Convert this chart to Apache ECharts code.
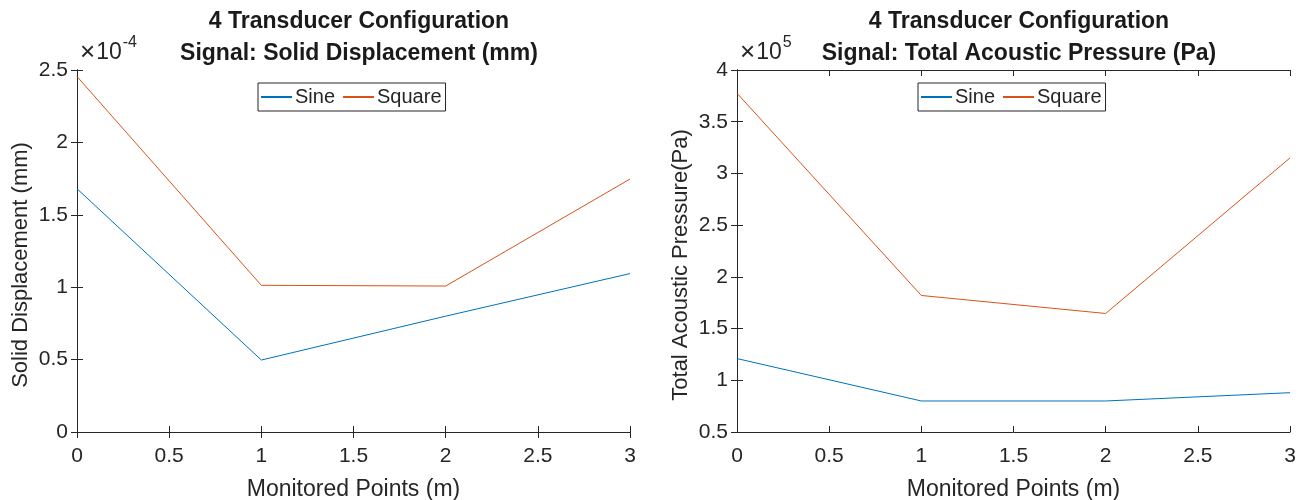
<!DOCTYPE html>
<html>
<head>
<meta charset="utf-8">
<script src="https://cdn.jsdelivr.net/npm/echarts@6/dist/echarts.min.js"></script>
<style>
	html, body { margin: 0; padding: 0; background: #fff; }
	#chart { width: 1299px; height: 500px; }
</style>
</head>
<body>
<div id="chart"></div>
<script>
// monitored points (m)
var points = [0, 1, 2, 3];
// solid displacement, in units of 1e-4 mm
var dispSine = [1.68, 0.497, 0.80, 1.094];
var dispSquare = [2.455, 1.013, 1.008, 1.747];
// total acoustic pressure, in units of 1e5 Pa
var presSine = [1.21, 0.80, 0.80, 0.88];
var presSquare = [3.775, 1.82, 1.646, 3.15];
var legendNames = ['Sine', 'Square'];

var FONT = 'Liberation Sans, Arial, sans-serif';
var INK = '#262626';
var SINE = '#0072BD';
var SQUARE = '#D95319';

function pairs(xs, ys) {
	return xs.map(function(x, i) { return [x, ys[i]]; });
}

// 一组坐标轴：底部/左侧带刻度标签，顶部/右侧只画刻度
function xAxes(gi) {
	return [{
		type: 'value', gridIndex: gi, min: 0, max: 3, interval: 0.5,
		name: 'Monitored Points (m)', nameLocation: 'middle', nameGap: 46,
		nameTextStyle: { fontFamily: FONT, fontSize: 23, color: INK },
		axisLine: { lineStyle: { color: INK, width: 1 } },
		axisTick: { inside: true, length: 6, lineStyle: { color: INK } },
		axisLabel: { fontFamily: FONT, fontSize: 21, color: INK, margin: 14 },
		splitLine: { show: false }
	}, {
		type: 'value', gridIndex: gi, position: 'top', min: 0, max: 3, interval: 0.5,
		axisLine: { show: true, lineStyle: { color: INK, width: 1 } },
		axisTick: { inside: true, length: 6, lineStyle: { color: INK } },
		axisLabel: { show: false },
		splitLine: { show: false }
	}];
}

function yAxes(gi, min, max, name) {
	return [{
		type: 'value', gridIndex: gi, min: min, max: max, interval: 0.5,
		name: name, nameLocation: 'middle', nameGap: 45,
		// 标签比绘图区中心略低
		nameTextStyle: { fontFamily: FONT, fontSize: 22, color: INK, padding: [0, 28, 0, 0] },
		axisLine: { show: true, lineStyle: { color: INK, width: 1 } },
		axisTick: { show: true, inside: true, length: 6, lineStyle: { color: INK } },
		axisLabel: { fontFamily: FONT, fontSize: 21, color: INK, margin: 9 },
		splitLine: { show: false }
	}, {
		type: 'value', gridIndex: gi, position: 'right', min: min, max: max, interval: 0.5,
		axisLine: { show: true, lineStyle: { color: INK, width: 1 } },
		axisTick: { show: true, inside: true, length: 6, lineStyle: { color: INK } },
		axisLabel: { show: false },
		splitLine: { show: false }
	}];
}

function line(name, color, xi, yi, data) {
	return {
		type: 'line', name: name, xAxisIndex: xi, yAxisIndex: yi,
		data: data, showSymbol: false, symbol: 'none',
		lineStyle: { color: color, width: 1 }, itemStyle: { color: color },
		animation: false
	};
}

function legendAt(left) {
	return {
		data: legendNames, left: left, top: 83, orient: 'horizontal',
		itemWidth: 31, itemHeight: 2, itemGap: 8,
		padding: [4, 4, 4, 3],
		borderColor: INK, borderWidth: 1, backgroundColor: '#fff',
		icon: 'rect',
		textStyle: { fontFamily: FONT, fontSize: 20, color: INK, padding: [0, 0, 0, -2] }
	};
}

// ×10^n 指数标注
function exponent(left, sup) {
	return {
		type: 'text', left: left, top: 35,
		style: {
			text: '{x|×}{b|10}{s|' + sup + '}',
			rich: {
				x: { fontFamily: FONT, fontSize: 26, fill: INK, padding: [12, 1, 0, 0] },
				b: { fontFamily: FONT, fontSize: 23, fill: INK, padding: [12, 1, 0, 0] },
				s: { fontFamily: FONT, fontSize: 16, fill: INK, padding: [0, 0, 8, 0] }
			}
		}
	};
}

var titleStyle = { fontFamily: FONT, fontSize: 23, fontWeight: 'bold', color: '#1a1a1a', lineHeight: 32 };

var myChart = echarts.init(document.getElementById('chart'), null, { renderer: 'canvas' });
var option = {
	animation: false,
	backgroundColor: '#fff',
	title: [{
		text: '4 Transducer Configuration\nSignal: Solid Displacement (mm)',
		left: 354, top: 1, textAlign: 'center', textStyle: titleStyle
	}, {
		text: '4 Transducer Configuration\nSignal: Total Acoustic Pressure (Pa)',
		left: 1014, top: 1, textAlign: 'center', textStyle: titleStyle
	}],
	legend: [legendAt(258), legendAt(918)],
	grid: [
		{ left: 77, top: 70, width: 553, height: 362, outerBoundsMode: 'none' },
		{ left: 737, top: 70, width: 553, height: 362, outerBoundsMode: 'none' }
	],
	xAxis: xAxes(0).concat(xAxes(1)),
	yAxis: yAxes(0, 0, 2.5, 'Solid Displacement (mm)').concat(yAxes(1, 0.5, 4, 'Total Acoustic Pressure(Pa)')),
	graphic: [exponent(80, '-4'), exponent(740, '5')],
	series: [
		line('Sine', SINE, 0, 0, pairs(points, dispSine)),
		line('Square', SQUARE, 0, 0, pairs(points, dispSquare)),
		line('Sine', SINE, 2, 2, pairs(points, presSine)),
		line('Square', SQUARE, 2, 2, pairs(points, presSquare))
	]
};
myChart.setOption(option);
</script>
</body>
</html>
